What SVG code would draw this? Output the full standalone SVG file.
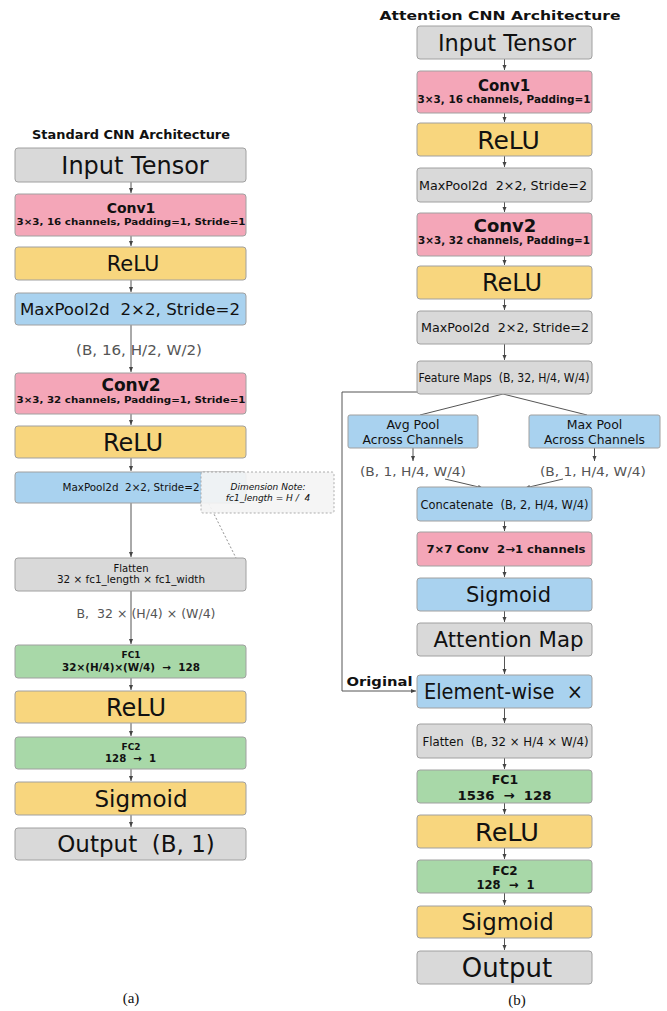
<svg xmlns="http://www.w3.org/2000/svg" width="667" height="1011" viewBox="0 0 667 1011">
<style>
  .box{stroke:#a0a0a0;stroke-width:1}
  .gray{fill:#d9d9d9}
  .pink{fill:#f4a6b8}
  .yel{fill:#f8d67e}
  .blue{fill:#a9d2ef}
  .green{fill:#a8d8a8}
  text{font-family:"DejaVu Sans","Liberation Sans",sans-serif;fill:#111;text-anchor:middle}
  .b{font-weight:bold}
  .lbl{fill:#555}
  .cap{font-family:"Liberation Serif",serif;font-size:15px}
  .conn{stroke:#555;stroke-width:1;fill:none}
  .dot{stroke:#777;stroke-width:0.8;stroke-dasharray:2 2;fill:none}
</style>
<defs>
  <marker id="ah" markerWidth="6" markerHeight="6" refX="5" refY="3" orient="auto" markerUnits="userSpaceOnUse">
    <path d="M0,1 L5,3 L0,5 z" fill="#444"/>
  </marker>
</defs>

<!-- Titles -->
<text x="131" y="139" class="b" font-size="12.5" textLength="198" lengthAdjust="spacingAndGlyphs">Standard CNN Architecture</text>
<text x="500" y="20" class="b" font-size="13" textLength="241" lengthAdjust="spacingAndGlyphs">Attention CNN Architecture</text>

<!-- Connectors -->
<g id="connectors">
  <line class="conn" x1="131" y1="182" x2="131" y2="193" marker-end="url(#ah)"/>
  <line class="conn" x1="131" y1="236" x2="131" y2="246" marker-end="url(#ah)"/>
  <line class="conn" x1="131" y1="280" x2="131" y2="292" marker-end="url(#ah)"/>
  <line class="conn" x1="131" y1="325" x2="131" y2="372" marker-end="url(#ah)"/>
  <line class="conn" x1="131" y1="414" x2="131" y2="425" marker-end="url(#ah)"/>
  <line class="conn" x1="131" y1="458" x2="131" y2="471" marker-end="url(#ah)"/>
  <line class="conn" x1="131" y1="503" x2="131" y2="557" marker-end="url(#ah)"/>
  <line class="conn" x1="131" y1="591" x2="131" y2="644" marker-end="url(#ah)"/>
  <line class="conn" x1="131" y1="678" x2="131" y2="690" marker-end="url(#ah)"/>
  <line class="conn" x1="131" y1="723" x2="131" y2="736" marker-end="url(#ah)"/>
  <line class="conn" x1="131" y1="769" x2="131" y2="781" marker-end="url(#ah)"/>
  <line class="conn" x1="131" y1="815" x2="131" y2="827" marker-end="url(#ah)"/>
  <line class="dot" x1="207" y1="500" x2="243" y2="572" marker-end="url(#ah)"/>

  <line class="conn" x1="504.5" y1="59" x2="504.5" y2="70" marker-end="url(#ah)"/>
  <line class="conn" x1="504.5" y1="113" x2="504.5" y2="122" marker-end="url(#ah)"/>
  <line class="conn" x1="504.5" y1="156" x2="504.5" y2="167" marker-end="url(#ah)"/>
  <line class="conn" x1="504.5" y1="202" x2="504.5" y2="212" marker-end="url(#ah)"/>
  <line class="conn" x1="504.5" y1="256" x2="504.5" y2="265" marker-end="url(#ah)"/>
  <line class="conn" x1="504.5" y1="299" x2="504.5" y2="310" marker-end="url(#ah)"/>
  <line class="conn" x1="504.5" y1="344" x2="504.5" y2="360" marker-end="url(#ah)"/>
  <line class="conn" x1="503" y1="394" x2="420" y2="415"/>
  <line class="conn" x1="503" y1="394" x2="587" y2="415"/>
  <line class="conn" x1="413" y1="448" x2="413" y2="461" marker-end="url(#ah)"/>
  <line class="conn" x1="594.5" y1="448" x2="594.5" y2="461" marker-end="url(#ah)"/>
  <line class="conn" x1="445" y1="479" x2="483" y2="488" marker-end="url(#ah)"/>
  <line class="conn" x1="563" y1="479" x2="525" y2="488" marker-end="url(#ah)"/>
  <line class="conn" x1="504.5" y1="521" x2="504.5" y2="531" marker-end="url(#ah)"/>
  <line class="conn" x1="504.5" y1="566" x2="504.5" y2="577" marker-end="url(#ah)"/>
  <line class="conn" x1="504.5" y1="611" x2="504.5" y2="622" marker-end="url(#ah)"/>
  <line class="conn" x1="504.5" y1="656" x2="504.5" y2="674" marker-end="url(#ah)"/>
  <polyline class="conn" points="420,392 342,392 342,691 416,691" marker-end="url(#ah)"/>
  <line class="conn" x1="504.5" y1="708" x2="504.5" y2="723" marker-end="url(#ah)"/>
  <line class="conn" x1="504.5" y1="758" x2="504.5" y2="769" marker-end="url(#ah)"/>
  <line class="conn" x1="504.5" y1="803" x2="504.5" y2="814" marker-end="url(#ah)"/>
  <line class="conn" x1="504.5" y1="848" x2="504.5" y2="859" marker-end="url(#ah)"/>
  <line class="conn" x1="504.5" y1="893" x2="504.5" y2="905" marker-end="url(#ah)"/>
  <line class="conn" x1="504.5" y1="938" x2="504.5" y2="950" marker-end="url(#ah)"/>
</g>

<!-- Left column -->
<g id="a-input"><rect class="box gray" x="15" y="148" width="231" height="34" rx="3"/>
  <text x="135" y="173.5" font-size="24">Input Tensor</text></g>
<g id="a-conv1"><rect class="box pink" x="15" y="194" width="231" height="42" rx="3"/>
  <text x="131" y="213" class="b" font-size="14">Conv1</text>
  <text x="131" y="224.5" class="b" font-size="9.5" textLength="229" lengthAdjust="spacingAndGlyphs">3×3, 16 channels, Padding=1, Stride=1</text></g>
<g id="a-relu1"><rect class="box yel" x="15" y="247" width="231" height="33" rx="3"/>
  <text x="133" y="271" font-size="21">ReLU</text></g>
<g id="a-pool1"><rect class="box blue" x="15" y="293" width="231" height="32" rx="3"/>
  <text x="130" y="315" font-size="16.5" textLength="220" lengthAdjust="spacingAndGlyphs" xml:space="preserve">MaxPool2d  2×2, Stride=2</text></g>
<text x="139" y="355" class="lbl" font-size="13.5" textLength="126" lengthAdjust="spacingAndGlyphs">(B, 16, H/2, W/2)</text>
<g id="a-conv2"><rect class="box pink" x="15" y="373" width="231" height="41" rx="3"/>
  <text x="131" y="391" class="b" font-size="17">Conv2</text>
  <text x="131" y="402.5" class="b" font-size="9.5" textLength="229" lengthAdjust="spacingAndGlyphs">3×3, 32 channels, Padding=1, Stride=1</text></g>
<g id="a-relu2"><rect class="box yel" x="15" y="426" width="231" height="32" rx="3"/>
  <text x="133" y="450.5" font-size="24">ReLU</text></g>
<g id="a-pool2"><rect class="box blue" x="15" y="472" width="231" height="31" rx="3"/>
  <text x="131" y="491" font-size="10.3" textLength="137" lengthAdjust="spacingAndGlyphs" xml:space="preserve">MaxPool2d  2×2, Stride=2</text></g>
<g id="a-note"><rect x="201" y="472" width="133" height="41" rx="2" fill="#f4f4f4" fill-opacity="0.92" stroke="#999" stroke-width="0.8" stroke-dasharray="2 2"/>
  <text x="268" y="490" font-size="9" font-style="italic">Dimension Note:</text>
  <text x="268" y="500.5" font-size="9" font-style="italic" xml:space="preserve">fc1_length = H /  4</text></g>
<g id="a-flatten"><rect class="box gray" x="15" y="558" width="231" height="33" rx="3"/>
  <text x="131" y="571.5" font-size="10">Flatten</text>
  <text x="131" y="583" font-size="10" textLength="148" lengthAdjust="spacingAndGlyphs">32 × fc1_length × fc1_width</text></g>
<text x="146" y="618" class="lbl" font-size="12" textLength="139" lengthAdjust="spacingAndGlyphs" xml:space="preserve">B,  32 × (H/4) × (W/4)</text>
<g id="a-fc1"><rect class="box green" x="15" y="645" width="231" height="33" rx="3"/>
  <text x="131" y="657.5" class="b" font-size="9">FC1</text>
  <text x="131" y="670.5" class="b" font-size="10" textLength="138" lengthAdjust="spacingAndGlyphs" xml:space="preserve">32×(H/4)×(W/4)  →  128</text></g>
<g id="a-relu3"><rect class="box yel" x="15" y="691" width="231" height="32" rx="3"/>
  <text x="136" y="715.5" font-size="24">ReLU</text></g>
<g id="a-fc2"><rect class="box green" x="15" y="737" width="231" height="32" rx="3"/>
  <text x="131" y="749.5" class="b" font-size="9">FC2</text>
  <text x="130.5" y="761.5" class="b" font-size="10" textLength="51" lengthAdjust="spacingAndGlyphs" xml:space="preserve">128  →  1</text></g>
<g id="a-sigmoid"><rect class="box yel" x="15" y="782" width="231" height="33" rx="3"/>
  <text x="141" y="806.5" font-size="23">Sigmoid</text></g>
<g id="a-output"><rect class="box gray" x="15" y="828" width="231" height="32" rx="3"/>
  <text x="136" y="852" font-size="23" xml:space="preserve">Output  (B, 1)</text></g>
<text x="131" y="1003" class="cap">(a)</text>

<!-- Right column -->
<g id="b-input"><rect class="box gray" x="417" y="26" width="175" height="33" rx="3"/>
  <text x="507" y="50.5" font-size="22.5">Input Tensor</text></g>
<g id="b-conv1"><rect class="box pink" x="417" y="71" width="175" height="42" rx="3"/>
  <text x="504" y="91" class="b" font-size="15">Conv1</text>
  <text x="504" y="102.5" class="b" font-size="10" textLength="173" lengthAdjust="spacingAndGlyphs">3×3, 16 channels, Padding=1</text></g>
<g id="b-relu1"><rect class="box yel" x="417" y="123" width="175" height="33" rx="3"/>
  <text x="508.5" y="148.5" font-size="25">ReLU</text></g>
<g id="b-pool1"><rect class="box gray" x="417" y="168" width="175" height="34" rx="3"/>
  <text x="503" y="189.5" font-size="12.7" textLength="168" lengthAdjust="spacingAndGlyphs" xml:space="preserve">MaxPool2d  2×2, Stride=2</text></g>
<g id="b-conv2"><rect class="box pink" x="417" y="213" width="175" height="43" rx="3"/>
  <text x="505" y="231.5" class="b" font-size="18">Conv2</text>
  <text x="504" y="243.5" class="b" font-size="10" textLength="172" lengthAdjust="spacingAndGlyphs">3×3, 32 channels, Padding=1</text></g>
<g id="b-relu2"><rect class="box yel" x="417" y="266" width="175" height="33" rx="3"/>
  <text x="512" y="291" font-size="24">ReLU</text></g>
<g id="b-pool2"><rect class="box gray" x="417" y="311" width="175" height="33" rx="3"/>
  <text x="505" y="332" font-size="12.7" textLength="168" lengthAdjust="spacingAndGlyphs" xml:space="preserve">MaxPool2d  2×2, Stride=2</text></g>
<g id="b-features"><rect class="box gray" x="417" y="361" width="175" height="33" rx="3"/>
  <text x="504" y="382" font-size="13" textLength="171" lengthAdjust="spacingAndGlyphs" xml:space="preserve">Feature Maps  (B, 32, H/4, W/4)</text></g>
<g id="b-avgpool"><rect class="box blue" x="348" y="415" width="130" height="33" rx="2"/>
  <text x="413" y="428.5" font-size="12.5">Avg Pool</text>
  <text x="413" y="443.5" font-size="12.5" textLength="101" lengthAdjust="spacingAndGlyphs">Across Channels</text></g>
<g id="b-maxpool"><rect class="box blue" x="529" y="415" width="131" height="33" rx="2"/>
  <text x="594.5" y="428.5" font-size="12.5">Max Pool</text>
  <text x="594.5" y="443.5" font-size="12.5" textLength="101" lengthAdjust="spacingAndGlyphs">Across Channels</text></g>
<text x="413" y="475.5" class="lbl" font-size="13" textLength="106" lengthAdjust="spacingAndGlyphs">(B, 1, H/4, W/4)</text>
<text x="593" y="475.5" class="lbl" font-size="13" textLength="106" lengthAdjust="spacingAndGlyphs">(B, 1, H/4, W/4)</text>
<g id="b-concat"><rect class="box blue" x="417" y="487" width="175" height="34" rx="3"/>
  <text x="504.5" y="508.5" font-size="13" textLength="168" lengthAdjust="spacingAndGlyphs" xml:space="preserve">Concatenate  (B, 2, H/4, W/4)</text></g>
<g id="b-conv7"><rect class="box pink" x="417" y="532" width="175" height="34" rx="3"/>
  <text x="506" y="553" class="b" font-size="11" textLength="159" lengthAdjust="spacingAndGlyphs" xml:space="preserve">7×7 Conv  2→1 channels</text></g>
<g id="b-sigmoid1"><rect class="box blue" x="417" y="578" width="175" height="33" rx="3"/>
  <text x="508.5" y="602" font-size="21">Sigmoid</text></g>
<g id="b-attn"><rect class="box gray" x="417" y="623" width="175" height="33" rx="3"/>
  <text x="508.5" y="647" font-size="21.3">Attention Map</text></g>
<text x="379.5" y="686" class="b" font-size="12" textLength="66" lengthAdjust="spacingAndGlyphs">Original</text>
<g id="b-elementwise"><rect class="box blue" x="417" y="675" width="175" height="33" rx="3"/>
  <text x="503.5" y="699" font-size="21" textLength="159" lengthAdjust="spacingAndGlyphs" xml:space="preserve">Element-wise  ×</text></g>
<g id="b-flatten"><rect class="box gray" x="417" y="724" width="175" height="34" rx="3"/>
  <text x="505.5" y="745.5" font-size="12.5" textLength="166" lengthAdjust="spacingAndGlyphs" xml:space="preserve">Flatten  (B, 32 × H/4 × W/4)</text></g>
<g id="b-fc1"><rect class="box green" x="417" y="770" width="175" height="33" rx="3"/>
  <text x="505" y="783.5" class="b" font-size="12.5">FC1</text>
  <text x="504.5" y="799.5" class="b" font-size="13" textLength="94" lengthAdjust="spacingAndGlyphs" xml:space="preserve">1536  →  128</text></g>
<g id="b-relu3"><rect class="box yel" x="417" y="815" width="175" height="33" rx="3"/>
  <text x="507" y="840.5" font-size="25.5">ReLU</text></g>
<g id="b-fc2"><rect class="box green" x="417" y="860" width="175" height="33" rx="3"/>
  <text x="505" y="874.5" class="b" font-size="12">FC2</text>
  <text x="505.5" y="888.5" class="b" font-size="12" textLength="58" lengthAdjust="spacingAndGlyphs" xml:space="preserve">128  →  1</text></g>
<g id="b-sigmoid2"><rect class="box yel" x="417" y="906" width="175" height="32" rx="3"/>
  <text x="507.5" y="930" font-size="22.8">Sigmoid</text></g>
<g id="b-output"><rect class="box gray" x="417" y="951" width="175" height="33" rx="3"/>
  <text x="507" y="977" font-size="26">Output</text></g>
<text x="517" y="1005" class="cap">(b)</text>
</svg>
